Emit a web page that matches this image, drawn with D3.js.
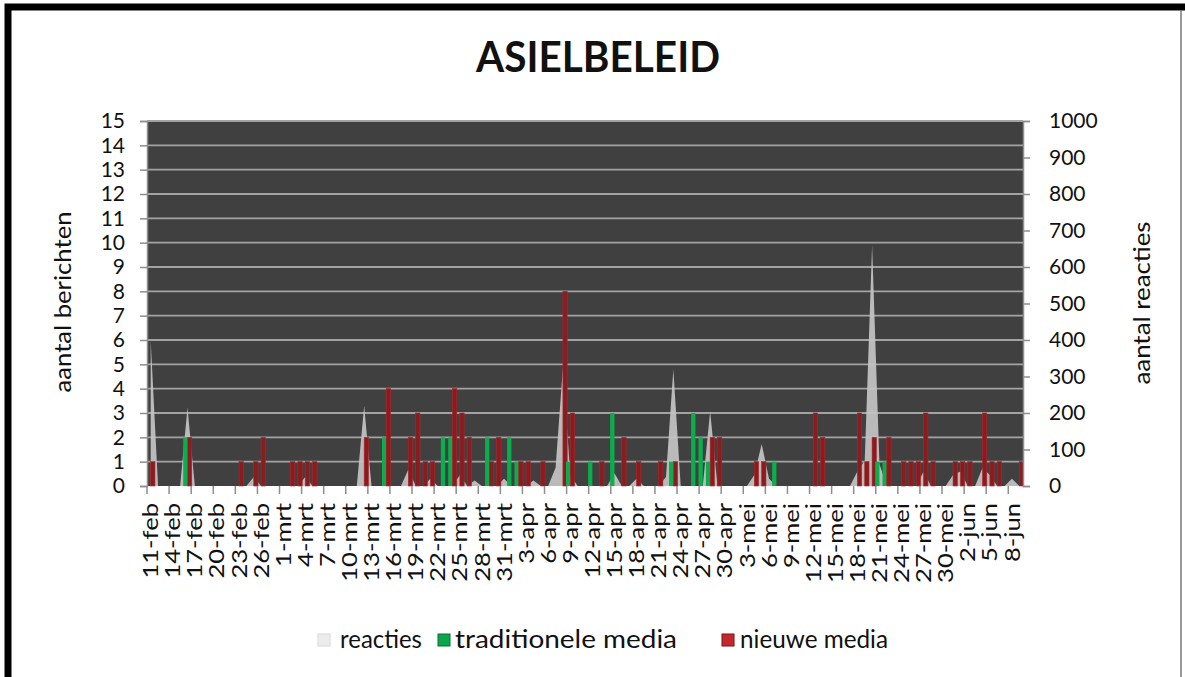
<!DOCTYPE html>
<html>
<head>
<meta charset="utf-8">
<script src="https://cdn.jsdelivr.net/npm/d3@7"></script>
<style>
    body { margin: 0; background: #fff; }
    text { font-family: Lato, "Open Sans", sans-serif; fill: #111; }
</style>
</head>
<body>
<div id="chart"></div>
<script>

// one category per day, 11-feb .. 9-jun
const dates = [
    '11-feb','12-feb','13-feb','14-feb','15-feb','16-feb','17-feb','18-feb','19-feb','20-feb',
    '21-feb','22-feb','23-feb','24-feb','25-feb','26-feb','27-feb','28-feb',
    '1-mrt','2-mrt','3-mrt','4-mrt','5-mrt','6-mrt','7-mrt','8-mrt','9-mrt','10-mrt',
    '11-mrt','12-mrt','13-mrt','14-mrt','15-mrt','16-mrt','17-mrt','18-mrt','19-mrt','20-mrt',
    '21-mrt','22-mrt','23-mrt','24-mrt','25-mrt','26-mrt','27-mrt','28-mrt','29-mrt','30-mrt','31-mrt',
    '1-apr','2-apr','3-apr','4-apr','5-apr','6-apr','7-apr','8-apr','9-apr','10-apr',
    '11-apr','12-apr','13-apr','14-apr','15-apr','16-apr','17-apr','18-apr','19-apr','20-apr',
    '21-apr','22-apr','23-apr','24-apr','25-apr','26-apr','27-apr','28-apr','29-apr','30-apr',
    '1-mei','2-mei','3-mei','4-mei','5-mei','6-mei','7-mei','8-mei','9-mei','10-mei',
    '11-mei','12-mei','13-mei','14-mei','15-mei','16-mei','17-mei','18-mei','19-mei','20-mei',
    '21-mei','22-mei','23-mei','24-mei','25-mei','26-mei','27-mei','28-mei','29-mei','30-mei','31-mei',
    '1-jun','2-jun','3-jun','4-jun','5-jun','6-jun','7-jun','8-jun','9-jun'
]

// aantal berichten (left axis)
const traditioneleMedia = [
    0,0,0,0,0,2,0,0,0,0, 0,0,0,0,0,0,0,0,
    0,0,0,0,0,0,0,0,0,0, 0,0,0,0,2,0,0,0,0,0, 0,0,2,2,0,0,0,0,2,0, 0,
    2,1,0,0,0,0,0,0,1,0, 0,1,0,0,3,0,0,0,0,0, 0,0,1,0,0,3,2,1,0,0,
    0,0,0,0,0,0,1,0,0,0, 0,0,0,0,0,0,0,0,0,0, 1,1,0,0,0,0,0,0,0,0, 0,
    0,0,0,0,0,0,0,0,0
]

const nieuweMedia = [
    1,0,0,0,0,2,0,0,0,0, 0,0,1,0,1,2,0,0,
    0,1,1,1,1,0,0,0,0,0, 0,2,0,0,4,0,0,2,3,1, 1,0,0,4,3,2,0,0,1,2, 0,
    0,1,1,0,1,0,0,8,3,0, 0,0,1,0,0,2,0,1,0,0, 1,0,1,0,0,0,0,2,2,0,
    0,0,0,1,1,0,0,0,0,0, 0,3,2,0,0,0,0,3,1,2, 0,2,0,1,1,1,3,1,0,0, 1,
    1,1,0,3,1,1,0,0,1
]

// aantal reacties (right axis)
const reacties = [
    400,0,0,0,0,215,0,0,0,0, 0,0,0,0,25,0,0,0,
    0,0,0,25,0,0,0,0,0,0, 0,220,0,0,0,0,0,45,0,0, 20,0,0,0,30,0,15,0,0,0, 20,
    0,0,0,15,0,0,50,325,30,0, 0,0,0,0,35,0,0,20,0,0, 0,25,320,0,0,0,0,205,0,0,
    0,0,0,30,115,20,0,0,0,0, 0,0,0,0,0,0,0,40,70,660, 60,0,0,0,0,0,40,0,0,0, 30,
    40,0,0,50,30,0,0,20,0
]

const leftTicks = d3.range(0, 16)
const rightTicks = d3.range(0, 1001, 100)
const labelDates = dates.filter(function(d, i){ return i % 3 == 0 })

const legendItems = ['reacties', 'traditionele media', 'nieuwe media']

let width = 1185,
    height = 677

let plot = {left: 147, right: 1023, top: 121, bottom: 486}

let svg = d3.select('#chart').append('svg')
    .attr('width', width)
    .attr('height', height)

// black frame, only top and left edges show in the picture
svg.append('path')
    .attr('d', 'M8,' + height + 'V7H' + width)
    .attr('fill', 'none')
    .attr('stroke', '#000')
    .attr('stroke-width', 7)

svg.append('line')
    .attr('x1', 1181).attr('x2', 1181)
    .attr('y1', 10).attr('y2', height)
    .attr('stroke', '#777')
    .attr('stroke-width', 1.5)

let xScale = d3.scaleBand().domain(dates).range([plot.left, plot.right])
let xInner = d3.scaleBand().domain(['trad', 'nieuw']).range([-0.6, xScale.bandwidth() + 0.6])
let yLeft = d3.scaleLinear().domain([0, 15]).range([plot.bottom, plot.top])
let yRight = d3.scaleLinear().domain([0, 1000]).range([plot.bottom, plot.top])

svg.append('rect')
    .attr('x', plot.left)
    .attr('y', plot.top)
    .attr('width', plot.right - plot.left)
    .attr('height', plot.bottom - plot.top)
    .attr('fill', '#404040')

svg.append('g')
    .selectAll('line')
    .data(leftTicks.slice(1))
    .join('line')
    .attr('x1', plot.left)
    .attr('x2', plot.right)
    .attr('y1', function(d){ return yLeft(d) })
    .attr('y2', function(d){ return yLeft(d) })
    .attr('stroke', '#a3a3a3')
    .attr('stroke-width', 1.8)

// reacties as area behind the columns
let rows = dates.map(function(d, i){
    return {date: d, trad: traditioneleMedia[i], nieuw: nieuweMedia[i], reacties: reacties[i]}
})

svg.append('path')
    .datum(rows)
    .attr('fill', '#c4c4c4')
    .attr('fill-opacity', 0.92)
    .attr('d', d3.area()
        .x(function(d){ return xScale(d.date) + xScale.bandwidth() / 2 })
        .y0(plot.bottom)
        .y1(function(d){ return yRight(d.reacties) }))

let cols = svg.append('g')
    .selectAll('g')
    .data(rows)
    .join('g')
    .attr('transform', function(d){ return 'translate(' + xScale(d.date) + ',0)' })

cols.append('rect')
    .attr('x', xInner('trad'))
    .attr('width', xInner.bandwidth())
    .attr('y', function(d){ return yLeft(d.trad) })
    .attr('height', function(d){ return plot.bottom - yLeft(d.trad) })
    .attr('fill', '#0aae4c')

cols.append('rect')
    .attr('x', xInner('nieuw'))
    .attr('width', xInner.bandwidth())
    .attr('y', function(d){ return yLeft(d.nieuw) })
    .attr('height', function(d){ return plot.bottom - yLeft(d.nieuw) })
    .attr('fill', '#8a1c20')
    .attr('stroke', function(d){ return d.nieuw > 0 ? '#b0262c' : 'none' })
    .attr('stroke-width', 0.6)

// axes
let leftAxis = svg.append('g')
    .attr('transform', 'translate(' + plot.left + ',0)')
    .call(d3.axisLeft(yLeft).tickValues(leftTicks).tickSize(7).tickPadding(15))

let rightAxis = svg.append('g')
    .attr('transform', 'translate(' + plot.right + ',0)')
    .call(d3.axisRight(yRight).tickValues(rightTicks).tickFormat(d3.format('d')).tickSize(7).tickPadding(19))

svg.selectAll('.domain, .tick line')
    .attr('stroke', '#8e8e8e')
    .attr('stroke-width', 1.5)

leftAxis.attr('font-family', null)
rightAxis.attr('font-family', null)
leftAxis.selectAll('text').attr('font-size', 21).attr('fill', '#111')
rightAxis.selectAll('text').attr('font-size', 21).attr('fill', '#111')

// category ticks every third day on band edges
svg.append('g')
    .selectAll('line')
    .data(labelDates)
    .join('line')
    .attr('x1', function(d){ return xScale(d) })
    .attr('x2', function(d){ return xScale(d) })
    .attr('y1', plot.bottom)
    .attr('y2', plot.bottom + 8)
    .attr('stroke', '#8e8e8e')
    .attr('stroke-width', 1.5)

svg.append('g')
    .selectAll('text')
    .data(labelDates)
    .join('text')
    .attr('transform', function(d){
        return 'translate(' + (xScale(d) + xScale.bandwidth() / 2) + ',' + (plot.bottom + 17) + ') rotate(-90) scale(1.22,1)'
    })
    .attr('text-anchor', 'end')
    .attr('dy', '0.36em')
    .attr('font-size', 21)
    .text(function(d){ return d })

// titles
svg.append('text')
    .attr('x', 598)
    .attr('y', 72)
    .attr('text-anchor', 'middle')
    .attr('font-size', 42)
    .attr('font-weight', 'bold')
    .attr('textLength', 244)
    .attr('lengthAdjust', 'spacingAndGlyphs')
    .attr('fill', '#000')
    .text('ASIELBELEID')

svg.append('text')
    .attr('transform', 'translate(71,302) rotate(-90)')
    .attr('text-anchor', 'middle')
    .attr('font-size', 24)
    .attr('textLength', 181)
    .attr('lengthAdjust', 'spacingAndGlyphs')
    .text('aantal berichten')

svg.append('text')
    .attr('transform', 'translate(1150,303) rotate(-90)')
    .attr('text-anchor', 'middle')
    .attr('font-size', 24)
    .attr('textLength', 163)
    .attr('lengthAdjust', 'spacingAndGlyphs')
    .text('aantal reacties')

// legend
let legendPos = [
    {mark: 318, text: 340, len: 82, fill: '#ececec', stroke: '#d8d8d8'},
    {mark: 438, text: 455, len: 222, fill: '#0aa64a', stroke: '#0b6b34'},
    {mark: 722, text: 740, len: 148, fill: '#c4282e', stroke: '#761216'}
]

let legend = svg.append('g')
    .selectAll('g')
    .data(legendItems)
    .join('g')

legend.append('rect')
    .attr('x', function(d, i){ return legendPos[i].mark })
    .attr('y', 634)
    .attr('width', 12)
    .attr('height', 12)
    .attr('fill', function(d, i){ return legendPos[i].fill })
    .attr('stroke', function(d, i){ return legendPos[i].stroke })

legend.append('text')
    .attr('x', function(d, i){ return legendPos[i].text })
    .attr('y', 648)
    .attr('font-size', 25)
    .attr('textLength', function(d, i){ return legendPos[i].len })
    .attr('lengthAdjust', 'spacingAndGlyphs')
    .text(function(d){ return d })

</script>
</body>
</html>
